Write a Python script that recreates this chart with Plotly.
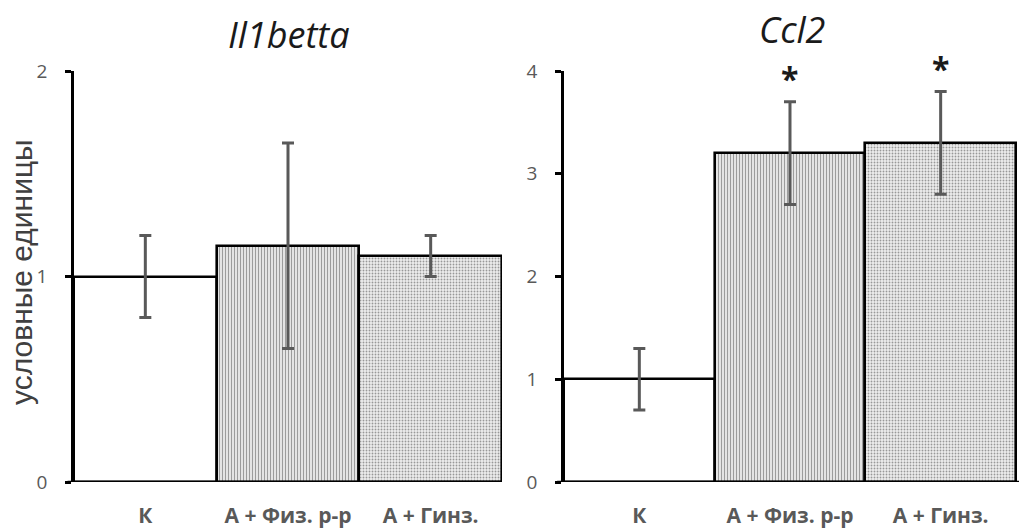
import plotly.graph_objects as go

W, H = 1019, 530

categories = ["К", "А + Физ. р-р", "А + Гинз."]
il1_values = [1.0, 1.15, 1.10]
il1_errors = [0.2, 0.5, 0.1]
ccl2_values = [1.0, 3.2, 3.3]
ccl2_errors = [0.3, 0.5, 0.5]
ccl2_signif = ["", "*", "*"]
titles = ["Il1betta", "Ccl2"]
y_title = "условные единицы"

fills = ["#ffffff", "#e4e4e4", "#ededed"]
patterns = ["", "|", "."]
pat_fg = ["#ffffff", "#ececec", "#e4e4e4"]

xs = [0, 1, 2]

def px_x(p):
    return p / W

def px_y(p):
    return 1 - p / H

fig = go.Figure()

for i, (vals, errs, ax) in enumerate([(il1_values, il1_errors, ""), (ccl2_values, ccl2_errors, "2")]):
    fig.add_trace(go.Bar(
        x=xs, y=vals, width=1,
        marker=dict(color=fills, line=dict(color="black", width=2.6),
                    pattern=dict(shape=patterns, fgcolor=pat_fg, bgcolor=fills, size=3, solidity=0.3)),
        error_y=dict(type="data", array=errs, visible=True, color="#595959", thickness=3, width=6),
        xaxis="x" + ax, yaxis="y" + ax, showlegend=False,
    ))

y_dom = [px_y(482), px_y(71)]
common_x = dict(tickvals=xs, ticktext=["<b>%s</b>" % c for c in categories],
                tickfont=dict(size=21, color="#595959"), ticks="", showline=False,
                showgrid=False, zeroline=False, ticklabelstandoff=19, automargin=False)
common_y = dict(showline=True, linecolor="black", linewidth=2.6,
                ticks="outside", ticklen=6, tickwidth=2.6, tickcolor="black",
                tickfont=dict(size=19, color="#595959"), showgrid=False, zeroline=False,
                ticklabelstandoff=14, automargin=False)
fig.update_layout(
    width=W, height=H,
    margin=dict(l=0, r=0, t=0, b=0, autoexpand=False),
    paper_bgcolor="white", plot_bgcolor="white",
    bargap=0,
    font=dict(family="Open Sans, Liberation Sans, sans-serif", color="#595959"),
    xaxis=dict(domain=[px_x(74), px_x(502)], range=[-0.5, 2.5], anchor="y", **common_x),
    yaxis=dict(domain=y_dom, range=[0, 2], tickvals=[0, 1, 2], anchor="x", **common_y),
    xaxis2=dict(domain=[px_x(564), 1.0], range=[-0.5, 2.52], anchor="y2", **common_x),
    yaxis2=dict(domain=y_dom, range=[0, 4], tickvals=[0, 1, 2, 3, 4], anchor="x2", **common_y),
)

for ax in ["", "2"]:
    fig.add_shape(type="line", xref="x" + ax + " domain", yref="y" + ax,
                  x0=-0.015, x1=1.0 if ax == "" else 1.01, y0=0, y1=0,
                  line=dict(color="black", width=2.6))

# y-axis title
fig.add_annotation(text=y_title, xref="paper", yref="paper", x=px_x(21), y=px_y(272),
                   textangle=-90, showarrow=False, xanchor="center", yanchor="middle",
                   font=dict(family="Liberation Sans, Arial, sans-serif", size=30, color="#404040"))

fig.add_annotation(text="<i>%s</i>" % titles[0], xref="x domain", yref="paper",
                   x=0.5, y=px_y(35), showarrow=False, yanchor="middle",
                   font=dict(size=36, color="#1a1a1a"))
fig.add_annotation(text="<i>%s</i>" % titles[1], xref="x2 domain", yref="paper",
                   x=0.5, y=px_y(30), showarrow=False, yanchor="middle",
                   font=dict(size=36, color="#1a1a1a"))

for x, v, e, s in zip(xs, ccl2_values, ccl2_errors, ccl2_signif):
    if s:
        fig.add_annotation(text="<b>%s</b>" % s, x=x, y=v + e, xref="x2", yref="y2",
                           showarrow=False, yanchor="bottom", yshift=0,
                           font=dict(size=32, color="#1a1a1a"))

fig.write_html("out.html")
